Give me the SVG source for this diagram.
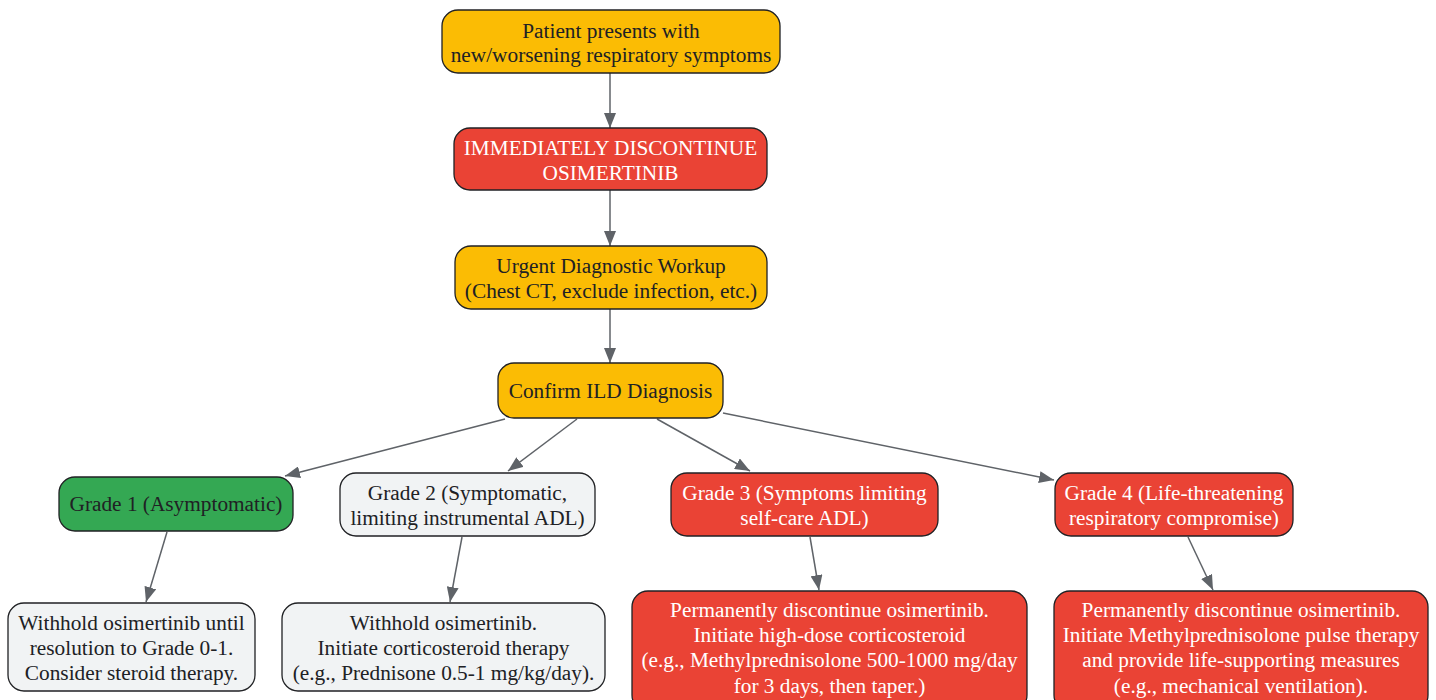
<svg xmlns="http://www.w3.org/2000/svg" width="1436" height="700" viewBox="0 0 1436 700">
<style>
.n{stroke:#202124;stroke-width:1.3}
.y{fill:#FBBC04}.r{fill:#EA4335}.g{fill:#34A853}.w{fill:#F1F3F4}
text{font-family:"Liberation Serif","Times New Roman",serif;font-size:21.3px;text-anchor:middle}
.d{fill:#202124}.l{fill:#ffffff}
.e{stroke:#5f6368;stroke-width:1.5;fill:none;marker-end:url(#a)}
</style>
<defs>
<marker id="a" markerUnits="userSpaceOnUse" markerWidth="16" markerHeight="12" refX="15" refY="6" orient="auto">
<path d="M0,0 L15,6 L0,12 Z" fill="#5f6368"/>
</marker>
</defs>
<rect width="1436" height="700" fill="#ffffff"/>
<g id="edges">
<line class="e" x1="610" y1="73" x2="610" y2="128"/>
<line class="e" x1="610" y1="190" x2="610" y2="246"/>
<line class="e" x1="610" y1="309" x2="610" y2="363"/>
<line class="e" x1="505" y1="419" x2="285" y2="476"/>
<line class="e" x1="577" y1="419" x2="508" y2="471"/>
<line class="e" x1="657" y1="419" x2="750" y2="471"/>
<line class="e" x1="723" y1="413" x2="1054" y2="480"/>
<line class="e" x1="167" y1="532" x2="146" y2="602"/>
<line class="e" x1="462" y1="537" x2="450" y2="602"/>
<line class="e" x1="810" y1="537" x2="819" y2="590"/>
<line class="e" x1="1188" y1="537" x2="1213" y2="590"/>
</g>
<g id="n1"><rect class="n y" x="442" y="10" width="338" height="63" rx="16"/>
<text class="d" x="611" y="38">Patient presents with</text>
<text class="d" x="611" y="62">new/worsening respiratory symptoms</text></g>
<g id="n2"><rect class="n r" x="454" y="128" width="313" height="62" rx="16"/>
<text class="l" x="610.5" y="155">IMMEDIATELY DISCONTINUE</text>
<text class="l" x="610.5" y="180">OSIMERTINIB</text></g>
<g id="n3"><rect class="n y" x="455" y="246" width="312" height="63" rx="16"/>
<text class="d" x="611" y="273">Urgent Diagnostic Workup</text>
<text class="d" x="611" y="298">(Chest CT, exclude infection, etc.)</text></g>
<g id="n4"><rect class="n y" x="498" y="363" width="225" height="55" rx="16"/>
<text class="d" x="610.5" y="398">Confirm ILD Diagnosis</text></g>
<g id="g1"><rect class="n g" x="59" y="477" width="234" height="54" rx="16"/>
<text class="d" x="176" y="511">Grade 1 (Asymptomatic)</text></g>
<g id="g2"><rect class="n w" x="340" y="473" width="255" height="63" rx="16"/>
<text class="d" x="467.5" y="500">Grade 2 (Symptomatic,</text>
<text class="d" x="467.5" y="525">limiting instrumental ADL)</text></g>
<g id="g3"><rect class="n r" x="671" y="473" width="267" height="63" rx="16"/>
<text class="l" x="804.5" y="500">Grade 3 (Symptoms limiting</text>
<text class="l" x="804.5" y="525">self-care ADL)</text></g>
<g id="g4"><rect class="n r" x="1055" y="473" width="238" height="63" rx="16"/>
<text class="l" x="1174" y="500">Grade 4 (Life-threatening</text>
<text class="l" x="1174" y="525">respiratory compromise)</text></g>
<g id="b1"><rect class="n w" x="8" y="603" width="247" height="88" rx="16"/>
<text class="d" x="131.5" y="630">Withhold osimertinib until</text>
<text class="d" x="131.5" y="655">resolution to Grade 0-1.</text>
<text class="d" x="131.5" y="680">Consider steroid therapy.</text></g>
<g id="b2"><rect class="n w" x="282" y="603" width="323" height="88" rx="16"/>
<text class="d" x="443.5" y="630">Withhold osimertinib.</text>
<text class="d" x="443.5" y="655">Initiate corticosteroid therapy</text>
<text class="d" x="443.5" y="680">(e.g., Prednisone 0.5-1 mg/kg/day).</text></g>
<g id="b3"><rect class="n r" x="632" y="591" width="395" height="120" rx="16"/>
<text class="l" x="829.5" y="617">Permanently discontinue osimertinib.</text>
<text class="l" x="829.5" y="642">Initiate high-dose corticosteroid</text>
<text class="l" x="829.5" y="667">(e.g., Methylprednisolone 500-1000 mg/day</text>
<text class="l" x="829.5" y="693">for 3 days, then taper.)</text></g>
<g id="b4"><rect class="n r" x="1054" y="591" width="374" height="120" rx="16"/>
<text class="l" x="1241" y="617">Permanently discontinue osimertinib.</text>
<text class="l" x="1241" y="642">Initiate Methylprednisolone pulse therapy</text>
<text class="l" x="1241" y="667">and provide life-supporting measures</text>
<text class="l" x="1241" y="693">(e.g., mechanical ventilation).</text></g>
</svg>
